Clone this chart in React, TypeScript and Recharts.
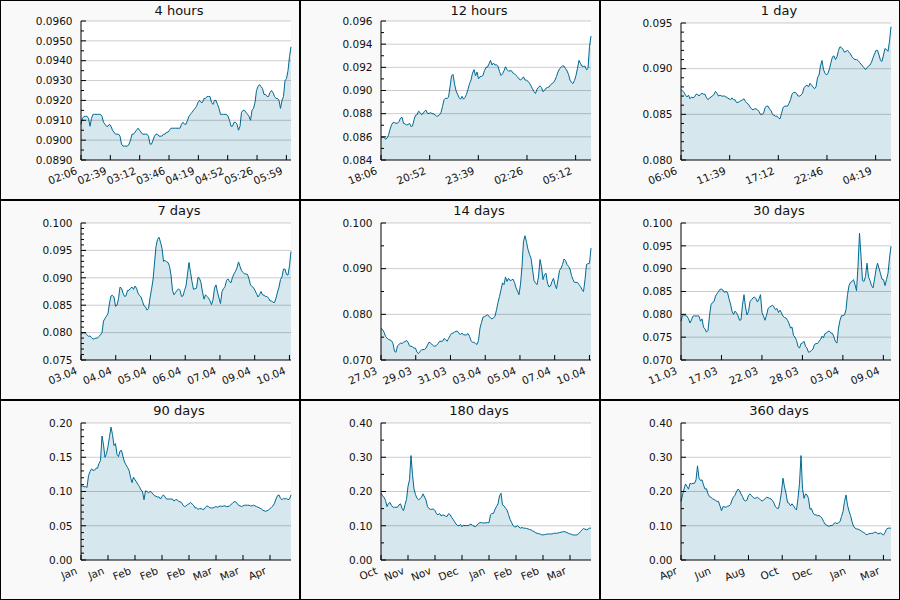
import React from 'react';
import { AreaChart, Area, XAxis, YAxis, CartesianGrid, ReferenceLine } from 'recharts';

const LINE = '#006a93';
const FILL = '#d6e7ee';
const FONT = '"DejaVu Sans", Verdana, sans-serif';

// values, evenly spaced in time
const v4h = [0.0908, 0.0911, 0.0912, 0.0912, 0.0912, 0.0911, 0.0907, 0.0911, 0.0913, 0.0913, 0.0913, 0.0913, 0.0913, 0.0913, 0.0912, 0.0909, 0.0908, 0.0907, 0.0907, 0.0908, 0.0907, 0.0905, 0.0904, 0.0903, 0.0903, 0.0903, 0.0902, 0.0898, 0.0897, 0.0897, 0.0897, 0.0897, 0.0898, 0.09, 0.0903, 0.0903, 0.0904, 0.0905, 0.0906, 0.0905, 0.0904, 0.0903, 0.0903, 0.0903, 0.0903, 0.0902, 0.0898, 0.0898, 0.09, 0.0902, 0.0903, 0.0903, 0.0902, 0.0902, 0.0902, 0.0903, 0.0903, 0.0904, 0.0904, 0.0905, 0.0906, 0.0906, 0.0906, 0.0906, 0.0906, 0.0906, 0.0906, 0.0908, 0.0909, 0.0908, 0.0908, 0.091, 0.0912, 0.0913, 0.0914, 0.0915, 0.0916, 0.0917, 0.0919, 0.092, 0.0919, 0.0919, 0.0921, 0.0921, 0.0922, 0.0922, 0.0922, 0.0919, 0.0918, 0.092, 0.092, 0.0918, 0.0916, 0.0913, 0.0913, 0.0913, 0.0913, 0.0913, 0.0912, 0.091, 0.0907, 0.0907, 0.0909, 0.0909, 0.0908, 0.0905, 0.0907, 0.0914, 0.0915, 0.0915, 0.0914, 0.0913, 0.0912, 0.091, 0.0915, 0.0916, 0.0919, 0.0925, 0.0927, 0.0928, 0.0927, 0.0926, 0.0923, 0.0923, 0.0922, 0.0922, 0.0924, 0.0925, 0.0924, 0.0922, 0.0921, 0.0921, 0.092, 0.0916, 0.092, 0.0922, 0.093, 0.0931, 0.0935, 0.0942, 0.0947];
const v12h = [0.08588, 0.08596, 0.08596, 0.08579, 0.08588, 0.08614, 0.08665, 0.08703, 0.08723, 0.08723, 0.08717, 0.08717, 0.08732, 0.08761, 0.08769, 0.08717, 0.08712, 0.08703, 0.08706, 0.08717, 0.08689, 0.08694, 0.08746, 0.08787, 0.0879, 0.08821, 0.0881, 0.08792, 0.088, 0.08821, 0.0883, 0.08804, 0.088, 0.0881, 0.088, 0.08798, 0.0879, 0.08778, 0.0878, 0.0879, 0.0881, 0.08862, 0.0892, 0.08934, 0.0893, 0.08942, 0.0903, 0.09127, 0.0914, 0.09058, 0.09, 0.08968, 0.0894, 0.08925, 0.0895, 0.08925, 0.0894, 0.08968, 0.0901, 0.09058, 0.0909, 0.0915, 0.0918, 0.09127, 0.0916, 0.09101, 0.0912, 0.09121, 0.0913, 0.09173, 0.092, 0.09202, 0.0923, 0.0926, 0.0922, 0.09237, 0.0922, 0.09222, 0.0921, 0.09164, 0.0913, 0.09144, 0.0917, 0.09205, 0.0918, 0.09167, 0.0917, 0.0917, 0.0915, 0.09144, 0.0913, 0.09118, 0.091, 0.09092, 0.091, 0.09118, 0.0909, 0.09089, 0.0908, 0.09063, 0.0904, 0.09014, 0.0899, 0.08974, 0.0901, 0.09029, 0.0904, 0.09026, 0.0899, 0.09, 0.0902, 0.09026, 0.0903, 0.09049, 0.0906, 0.09069, 0.0909, 0.09121, 0.0916, 0.09188, 0.092, 0.09213, 0.0921, 0.0919, 0.0917, 0.09139, 0.0909, 0.09069, 0.0906, 0.09087, 0.0913, 0.09193, 0.0926, 0.09234, 0.0921, 0.09208, 0.0921, 0.09179, 0.0919, 0.09381, 0.0947];
const v1d = [0.0877, 0.0876, 0.0874, 0.0871, 0.0869, 0.0871, 0.0867, 0.0869, 0.0868, 0.0869, 0.0872, 0.0872, 0.087, 0.0872, 0.0873, 0.0872, 0.0872, 0.0868, 0.0866, 0.0868, 0.0869, 0.087, 0.0872, 0.0875, 0.0873, 0.087, 0.0871, 0.087, 0.087, 0.087, 0.0869, 0.0868, 0.0867, 0.0866, 0.0868, 0.0866, 0.0866, 0.0863, 0.0863, 0.0864, 0.0865, 0.0866, 0.0867, 0.0864, 0.0862, 0.0861, 0.0858, 0.0856, 0.0855, 0.0856, 0.0856, 0.0855, 0.0853, 0.085, 0.085, 0.0851, 0.0857, 0.0859, 0.0859, 0.0856, 0.0854, 0.085, 0.0849, 0.0848, 0.0848, 0.0846, 0.0845, 0.0851, 0.0857, 0.0859, 0.0859, 0.0859, 0.0862, 0.0866, 0.0872, 0.0874, 0.0874, 0.0873, 0.087, 0.087, 0.0871, 0.0873, 0.0879, 0.0881, 0.0882, 0.088, 0.0884, 0.0882, 0.088, 0.0878, 0.088, 0.089, 0.0893, 0.0903, 0.0909, 0.0899, 0.0895, 0.0893, 0.0895, 0.09, 0.0907, 0.0913, 0.0914, 0.091, 0.0913, 0.092, 0.0924, 0.0923, 0.0921, 0.0918, 0.0919, 0.092, 0.0918, 0.0916, 0.0913, 0.0911, 0.091, 0.091, 0.0909, 0.0907, 0.0905, 0.0903, 0.0901, 0.0899, 0.0901, 0.0903, 0.0904, 0.0907, 0.0912, 0.0916, 0.092, 0.092, 0.0915, 0.0909, 0.0908, 0.0915, 0.0922, 0.0921, 0.0919, 0.093, 0.0946];
const v7d = [0.0796, 0.0799, 0.08, 0.0799, 0.0796, 0.0793, 0.0794, 0.0791, 0.0788, 0.0789, 0.079, 0.079, 0.0793, 0.0796, 0.08, 0.0821, 0.0826, 0.083, 0.0835, 0.0854, 0.0867, 0.0868, 0.0865, 0.0848, 0.085, 0.0862, 0.0883, 0.0881, 0.0872, 0.0866, 0.0867, 0.0877, 0.0877, 0.0881, 0.0883, 0.0879, 0.0885, 0.0881, 0.0872, 0.0868, 0.0865, 0.0857, 0.0849, 0.0847, 0.0841, 0.0844, 0.0863, 0.0879, 0.0896, 0.0927, 0.0957, 0.097, 0.0974, 0.0965, 0.0954, 0.093, 0.0932, 0.0929, 0.0928, 0.0921, 0.0905, 0.0877, 0.0869, 0.0873, 0.0877, 0.088, 0.0877, 0.0866, 0.0867, 0.0877, 0.0885, 0.0907, 0.0928, 0.091, 0.0893, 0.0879, 0.088, 0.0881, 0.0901, 0.0899, 0.0891, 0.0874, 0.0861, 0.0869, 0.0866, 0.0863, 0.0858, 0.0851, 0.086, 0.0881, 0.0887, 0.0874, 0.0863, 0.0853, 0.0875, 0.088, 0.0884, 0.0895, 0.0898, 0.0893, 0.0891, 0.0901, 0.0907, 0.0912, 0.0918, 0.0929, 0.0921, 0.0913, 0.091, 0.0907, 0.0907, 0.0906, 0.0898, 0.0887, 0.0884, 0.0882, 0.0877, 0.0871, 0.0865, 0.0869, 0.0875, 0.0869, 0.0868, 0.0866, 0.0866, 0.0863, 0.0858, 0.0858, 0.0855, 0.0855, 0.0863, 0.0874, 0.0883, 0.0897, 0.0902, 0.0916, 0.0916, 0.0906, 0.0905, 0.0922, 0.0948];
const v14d = [0.0769, 0.0767, 0.0761, 0.0752, 0.0748, 0.0745, 0.0744, 0.0742, 0.0736, 0.0719, 0.0717, 0.0731, 0.0734, 0.0737, 0.0736, 0.0739, 0.074, 0.0743, 0.0739, 0.0731, 0.073, 0.0729, 0.0726, 0.0726, 0.0717, 0.0714, 0.0719, 0.0722, 0.0723, 0.0723, 0.0726, 0.0733, 0.0739, 0.0737, 0.0734, 0.0731, 0.073, 0.0732, 0.0736, 0.0741, 0.0741, 0.0741, 0.0747, 0.0745, 0.0741, 0.0747, 0.0753, 0.0758, 0.0759, 0.0761, 0.0763, 0.0763, 0.0758, 0.0756, 0.0759, 0.0755, 0.0755, 0.0755, 0.0758, 0.0752, 0.0742, 0.0739, 0.0739, 0.0736, 0.0734, 0.0743, 0.077, 0.0782, 0.0794, 0.0795, 0.0797, 0.0799, 0.0796, 0.0792, 0.079, 0.0792, 0.0796, 0.081, 0.0826, 0.0839, 0.0854, 0.0869, 0.0865, 0.0882, 0.0872, 0.0879, 0.0874, 0.0875, 0.0877, 0.087, 0.0858, 0.0851, 0.0843, 0.0866, 0.0905, 0.096, 0.0972, 0.0958, 0.0942, 0.0931, 0.0923, 0.0899, 0.0874, 0.0869, 0.0865, 0.0882, 0.092, 0.0904, 0.0876, 0.0887, 0.089, 0.0868, 0.086, 0.0862, 0.0872, 0.0879, 0.0865, 0.0856, 0.0876, 0.0896, 0.0901, 0.0909, 0.0921, 0.0918, 0.0909, 0.0905, 0.0899, 0.0885, 0.0876, 0.087, 0.087, 0.087, 0.0865, 0.0861, 0.0854, 0.085, 0.0876, 0.0909, 0.0911, 0.0912, 0.0945];
const v30d = [0.0785, 0.0797, 0.0799, 0.0797, 0.0796, 0.079, 0.0781, 0.0788, 0.0796, 0.0797, 0.0796, 0.0797, 0.0796, 0.0785, 0.079, 0.0772, 0.0768, 0.0761, 0.0765, 0.0797, 0.0821, 0.0826, 0.0828, 0.084, 0.0845, 0.085, 0.0855, 0.0855, 0.0853, 0.0848, 0.085, 0.0848, 0.0834, 0.0823, 0.0807, 0.08, 0.0807, 0.0803, 0.0797, 0.0787, 0.0788, 0.0821, 0.0843, 0.0816, 0.0799, 0.0806, 0.0828, 0.0832, 0.0836, 0.0838, 0.0834, 0.0827, 0.0834, 0.0843, 0.0804, 0.0796, 0.0787, 0.0798, 0.0812, 0.0816, 0.0818, 0.082, 0.0816, 0.081, 0.0813, 0.0804, 0.0809, 0.0803, 0.0796, 0.0793, 0.0792, 0.0787, 0.078, 0.077, 0.0772, 0.0754, 0.075, 0.0743, 0.073, 0.0726, 0.0736, 0.0737, 0.0741, 0.073, 0.0726, 0.0717, 0.0718, 0.0721, 0.0724, 0.0734, 0.0736, 0.0736, 0.0741, 0.0745, 0.0752, 0.0749, 0.0758, 0.0759, 0.0763, 0.0763, 0.0759, 0.0758, 0.075, 0.074, 0.0737, 0.077, 0.0787, 0.0797, 0.0797, 0.0799, 0.081, 0.0843, 0.0863, 0.087, 0.0872, 0.0876, 0.0865, 0.0852, 0.0905, 0.0978, 0.0927, 0.0874, 0.0872, 0.0883, 0.0912, 0.0882, 0.0874, 0.0863, 0.0858, 0.0877, 0.0898, 0.0912, 0.0901, 0.0889, 0.0877, 0.0876, 0.0863, 0.0876, 0.089, 0.0923, 0.0949];
const v90d = [0.108, 0.108, 0.107, 0.107, 0.106, 0.123, 0.129, 0.133, 0.131, 0.131, 0.134, 0.134, 0.141, 0.145, 0.181, 0.168, 0.15, 0.155, 0.166, 0.18, 0.194, 0.183, 0.167, 0.17, 0.154, 0.151, 0.159, 0.16, 0.151, 0.143, 0.139, 0.135, 0.131, 0.121, 0.113, 0.121, 0.117, 0.114, 0.11, 0.107, 0.102, 0.1, 0.088, 0.101, 0.1, 0.098, 0.1, 0.099, 0.096, 0.094, 0.093, 0.092, 0.092, 0.089, 0.093, 0.095, 0.092, 0.089, 0.089, 0.089, 0.089, 0.089, 0.086, 0.088, 0.088, 0.086, 0.085, 0.084, 0.08, 0.078, 0.079, 0.081, 0.082, 0.084, 0.082, 0.08, 0.076, 0.076, 0.074, 0.075, 0.075, 0.074, 0.074, 0.077, 0.079, 0.078, 0.076, 0.076, 0.076, 0.077, 0.078, 0.077, 0.078, 0.079, 0.078, 0.079, 0.079, 0.078, 0.078, 0.079, 0.081, 0.083, 0.085, 0.085, 0.083, 0.08, 0.079, 0.078, 0.079, 0.08, 0.08, 0.08, 0.08, 0.079, 0.079, 0.08, 0.079, 0.078, 0.077, 0.076, 0.075, 0.073, 0.072, 0.071, 0.072, 0.073, 0.075, 0.077, 0.079, 0.083, 0.089, 0.094, 0.095, 0.09, 0.088, 0.09, 0.089, 0.09, 0.088, 0.089, 0.095];
const v180d = [0.195, 0.188, 0.183, 0.174, 0.156, 0.165, 0.168, 0.159, 0.154, 0.154, 0.154, 0.154, 0.161, 0.164, 0.151, 0.144, 0.161, 0.177, 0.215, 0.234, 0.305, 0.249, 0.207, 0.191, 0.18, 0.176, 0.179, 0.183, 0.193, 0.184, 0.175, 0.156, 0.15, 0.148, 0.148, 0.149, 0.144, 0.135, 0.132, 0.136, 0.129, 0.131, 0.131, 0.128, 0.127, 0.135, 0.133, 0.125, 0.119, 0.112, 0.105, 0.101, 0.1, 0.104, 0.097, 0.102, 0.1, 0.101, 0.1, 0.103, 0.105, 0.101, 0.099, 0.097, 0.102, 0.107, 0.109, 0.109, 0.108, 0.108, 0.109, 0.109, 0.109, 0.132, 0.136, 0.136, 0.148, 0.156, 0.164, 0.187, 0.195, 0.161, 0.158, 0.151, 0.146, 0.133, 0.119, 0.11, 0.101, 0.097, 0.097, 0.1, 0.096, 0.093, 0.095, 0.093, 0.093, 0.092, 0.091, 0.089, 0.088, 0.085, 0.083, 0.08, 0.078, 0.077, 0.076, 0.074, 0.073, 0.074, 0.075, 0.076, 0.076, 0.076, 0.076, 0.078, 0.078, 0.078, 0.079, 0.08, 0.081, 0.082, 0.083, 0.082, 0.08, 0.078, 0.076, 0.075, 0.073, 0.073, 0.073, 0.074, 0.078, 0.083, 0.088, 0.092, 0.09, 0.088, 0.09, 0.093, 0.093];
const v360d = [0.171, 0.19, 0.207, 0.222, 0.215, 0.207, 0.224, 0.222, 0.224, 0.224, 0.234, 0.275, 0.239, 0.232, 0.234, 0.219, 0.207, 0.208, 0.193, 0.185, 0.183, 0.179, 0.177, 0.174, 0.171, 0.171, 0.158, 0.144, 0.156, 0.155, 0.154, 0.157, 0.158, 0.162, 0.175, 0.184, 0.189, 0.2, 0.207, 0.203, 0.193, 0.185, 0.175, 0.172, 0.175, 0.189, 0.193, 0.188, 0.183, 0.18, 0.181, 0.183, 0.179, 0.176, 0.172, 0.175, 0.179, 0.183, 0.182, 0.18, 0.178, 0.174, 0.166, 0.155, 0.151, 0.151, 0.171, 0.2, 0.239, 0.213, 0.195, 0.168, 0.166, 0.158, 0.164, 0.158, 0.151, 0.146, 0.18, 0.224, 0.305, 0.21, 0.18, 0.193, 0.19, 0.18, 0.148, 0.15, 0.138, 0.132, 0.132, 0.129, 0.13, 0.127, 0.122, 0.113, 0.105, 0.102, 0.099, 0.099, 0.101, 0.101, 0.107, 0.109, 0.106, 0.109, 0.112, 0.127, 0.141, 0.171, 0.19, 0.16, 0.143, 0.13, 0.112, 0.099, 0.093, 0.091, 0.09, 0.088, 0.085, 0.082, 0.08, 0.076, 0.073, 0.077, 0.077, 0.078, 0.078, 0.081, 0.081, 0.077, 0.077, 0.079, 0.076, 0.073, 0.08, 0.09, 0.093, 0.093, 0.093];

// x tick labels
const x4h = ['02:06', '02:39', '03:12', '03:46', '04:19', '04:52', '05:26', '05:59'];
const x12h = ['18:06', '20:52', '23:39', '02:26', '05:12'];
const x1d = ['06:06', '11:39', '17:12', '22:46', '04:19'];
const x7d = ['03.04', '04.04', '05.04', '06.04', '07.04', '09.04', '10.04'];
const x14d = ['27.03', '29.03', '31.03', '03.04', '05.04', '07.04', '10.04'];
const x30d = ['11.03', '17.03', '22.03', '28.03', '03.04', '09.04'];
const x90d = ['Jan', 'Jan', 'Feb', 'Feb', 'Feb', 'Mar', 'Mar', 'Apr'];
const x180d = ['Oct', 'Nov', 'Nov', 'Dec', 'Jan', 'Feb', 'Feb', 'Mar'];
const x360d = ['Apr', 'Jun', 'Aug', 'Oct', 'Dec', 'Jan', 'Mar'];

// y axis labelled ticks
const y4h = [0.089, 0.09, 0.091, 0.092, 0.093, 0.094, 0.095, 0.096];
const y12h = [0.084, 0.086, 0.088, 0.09, 0.092, 0.094, 0.096];
const y1d = [0.08, 0.085, 0.09, 0.095];
const y7d = [0.075, 0.08, 0.085, 0.09, 0.095, 0.1];
const y14d = [0.07, 0.08, 0.09, 0.1];
const y30d = [0.07, 0.075, 0.08, 0.085, 0.09, 0.095, 0.1];
const y90d = [0, 0.05, 0.1, 0.15, 0.2];
const y180d = [0, 0.1, 0.2, 0.3, 0.4];
const y360d = [0, 0.1, 0.2, 0.3, 0.4];

type Panel = {
  title: string;
  values: number[];
  xLabels: string[];
  xStep: number;
  yMajor: number[];
  yDiv: number;
  decimals: number;
  top: number;
};

const panels: Panel[] = [
  { title: '4 hours', values: v4h, xLabels: x4h, xStep: 19.56, yMajor: y4h, yDiv: 2, decimals: 4, top: 21 },
  { title: '12 hours', values: v12h, xLabels: x12h, xStep: 32.44, yMajor: y12h, yDiv: 2, decimals: 3, top: 21 },
  { title: '1 day', values: v1d, xLabels: x1d, xStep: 32.44, yMajor: y1d, yDiv: 5, decimals: 3, top: 23 },
  { title: '7 days', values: v7d, xLabels: x7d, xStep: 23.16, yMajor: y7d, yDiv: 5, decimals: 3, top: 23 },
  { title: '14 days', values: v14d, xLabels: x14d, xStep: 23.16, yMajor: y14d, yDiv: 2, decimals: 3, top: 23 },
  { title: '30 days', values: v30d, xLabels: x30d, xStep: 26.98, yMajor: y30d, yDiv: 1, decimals: 3, top: 23 },
  { title: '90 days', values: v90d, xLabels: x90d, xStep: 18.0, yMajor: y90d, yDiv: 5, decimals: 2, top: 23 },
  { title: '180 days', values: v180d, xLabels: x180d, xStep: 18.0, yMajor: y180d, yDiv: 2, decimals: 2, top: 23 },
  { title: '360 days', values: v360d, xLabels: x360d, xStep: 22.49, yMajor: y360d, yDiv: 2, decimals: 2, top: 23 },
];

function withMinor(major: number[], div: number) {
  const out: number[] = [];
  for (let i = 0; i < major.length - 1; i++) {
    for (let j = 0; j < div; j++) {
      out.push(+(major[i] + ((major[i + 1] - major[i]) * j) / div).toFixed(6));
    }
  }
  out.push(major[major.length - 1]);
  return out;
}

const YTick = (props: any) => {
  const { x, y, payload, major, decimals } = props;
  const isMajor = major.some((m: number) => Math.abs(m - payload.value) < 1e-7);
  return (
    <g>
      <line x1={x} x2={x + (isMajor ? 5 : 3)} y1={y} y2={y} stroke="#000" />
      {isMajor && (
        <text x={x - 8.5} y={y} dy="0.36em" textAnchor="end" fontSize={10.5} fontFamily={FONT} fill="#111">
          {payload.value.toFixed(decimals)}
        </text>
      )}
    </g>
  );
};

const XTick = (props: any) => {
  const { x, y, payload, labels, step } = props;
  const label = labels[Math.round(payload.value / step)];
  return (
    <g>
      <line x1={x} x2={x} y1={y} y2={y - 5} stroke="#000" />
      <text
        transform={`translate(${x - 3},${y + 13.5}) rotate(-22)`}
        textAnchor="end"
        fontSize={10.5}
        fontFamily={FONT}
        fill="#111"
      >
        {label}
      </text>
    </g>
  );
};

function MiniChart({ p }: { p: Panel }) {
  const data = p.values.map((v, i) => ({ i, v }));
  const xTicks = p.xLabels.map((_, k) => k * p.xStep);
  const yMin = p.yMajor[0];
  const yMax = p.yMajor[p.yMajor.length - 1];
  return (
    <div style={{ position: 'relative', width: 300, height: 200 }}>
      <div
        style={{
          position: 'absolute',
          left: 79,
          width: 200,
          top: 4,
          textAlign: 'center',
          fontFamily: FONT,
          fontSize: 13,
          lineHeight: '13px',
          color: '#111',
        }}
      >
        {p.title}
      </div>
      <AreaChart width={300} height={200} data={data} margin={{ top: p.top, right: 9, bottom: 0, left: 0 }}>
        <CartesianGrid fill="#fff" stroke="none" horizontal={false} vertical={false} />
        <XAxis
          dataKey="i"
          type="number"
          domain={[0, p.values.length - 1]}
          ticks={xTicks}
          interval={0}
          height={40}
          tickSize={0}
          tickMargin={0}
          tickLine={false}
          axisLine={{ stroke: '#000' }}
          tick={<XTick labels={p.xLabels} step={p.xStep} />}
        />
        <YAxis
          type="number"
          domain={[yMin, yMax]}
          ticks={withMinor(p.yMajor, p.yDiv)}
          interval={0}
          width={81}
          tickSize={0}
          tickMargin={0}
          tickLine={false}
          axisLine={{ stroke: '#000' }}
          tick={<YTick major={p.yMajor} decimals={p.decimals} />}
        />
        <Area
          type="linear"
          dataKey="v"
          stroke={LINE}
          strokeWidth={1}
          fill={FILL}
          fillOpacity={1}
          baseValue="dataMin"
          isAnimationActive={false}
          dot={false}
          activeDot={false}
        />
        {p.yMajor.slice(1).map((v) => (
          <ReferenceLine key={v} y={v} stroke="rgba(0,0,0,0.2)" strokeWidth={1} />
        ))}
      </AreaChart>
    </div>
  );
}

export default function App() {
  return (
    <div style={{ position: 'absolute', left: 0, top: 0, width: 900, height: 600, background: '#f9f9f9' }}>
      {panels.map((p, idx) => (
        <div
          key={p.title}
          style={{ position: 'absolute', left: (idx % 3) * 300, top: Math.floor(idx / 3) * 200, width: 300, height: 200 }}
        >
          <MiniChart p={p} />
        </div>
      ))}
      <div style={{ position: 'absolute', left: 299, top: 0, width: 2, height: 600, background: '#000' }} />
      <div style={{ position: 'absolute', left: 599, top: 0, width: 2, height: 600, background: '#000' }} />
      <div style={{ position: 'absolute', left: 0, top: 199, width: 900, height: 2, background: '#000' }} />
      <div style={{ position: 'absolute', left: 0, top: 399, width: 900, height: 2, background: '#000' }} />
      <div
        style={{
          position: 'absolute',
          left: 0,
          top: 0,
          width: 900,
          height: 600,
          boxSizing: 'border-box',
          border: '1px solid #000',
          pointerEvents: 'none',
        }}
      />
    </div>
  );
}
